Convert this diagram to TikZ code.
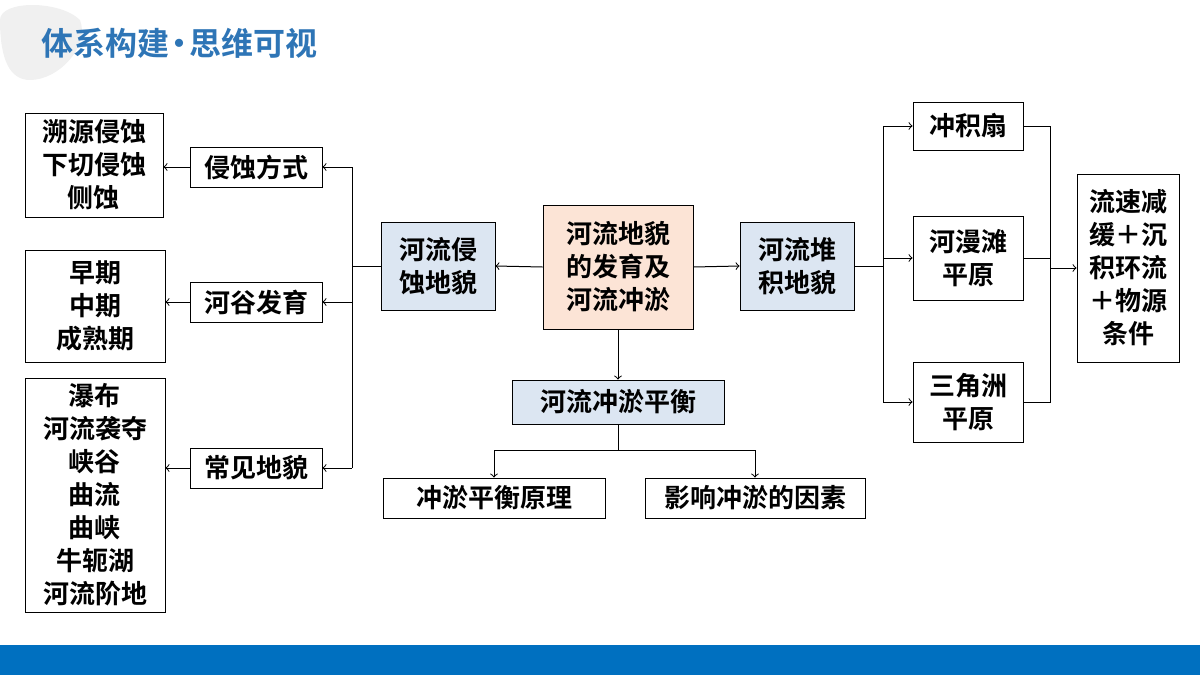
\documentclass[tikz,border=0pt]{standalone}
\usepackage{fontspec}
\setmainfont{Noto Sans CJK SC}[BoldFont={Noto Sans CJK SC Bold}]
\usepackage{tikz}
\usetikzlibrary{arrows}
\definecolor{titleblue}{RGB}{46,117,182}
\definecolor{barblue}{RGB}{0,112,192}
\definecolor{boxblue}{RGB}{220,230,242}
\definecolor{boxpeach}{RGB}{252,228,214}

\begin{document}
\begin{tikzpicture}[x=0.5pt,y=-0.5pt,>=to,
  box/.style={draw=black,fill=white,align=center,font=\bfseries\fontsize{13}{16.5}\selectfont,inner sep=0pt},
  line/.style={draw=black,line width=0.5pt}]
\useasboundingbox (0,0) rectangle (1200,675);
%%%BACKGROUND
\fill[gray!12] (0,20) .. controls (0,0) and (60,0) .. (80,20) .. controls (90,45) and (60,80) .. (30,80) .. controls (10,80) and (0,60) .. (0,20);
\fill[barblue] (0,645) rectangle (1200,675);
\node[anchor=west,font=\bfseries\fontsize{16}{19}\selectfont,text=titleblue] (title) at (34,43) {体系构建{\kern-3pt}•{\kern-3pt}思维可视};
%%%LEFT
\node[box,minimum width=69pt,minimum height=52pt] (sy) at (94,165) {溯源侵蚀\\下切侵蚀\\侧蚀};
\node[box,minimum width=70pt,minimum height=56pt] (zq) at (95,306) {早期\\中期\\成熟期};
\node[box,minimum width=70pt,minimum height=117pt] (pb) at (95,495) {瀑布\\河流袭夺\\峡谷\\曲流\\曲峡\\牛轭湖\\河流阶地};
\node[box,minimum width=66pt,minimum height=20pt] (qs) at (256,167) {侵蚀方式};
\node[box,minimum width=66pt,minimum height=20pt] (hg) at (256,302) {河谷发育};
\node[box,minimum width=66pt,minimum height=20pt] (cj) at (256,468) {常见地貌};
\node[box,fill=boxblue,minimum width=57pt,minimum height=44pt] (qsdm) at (438,266) {河流侵\\蚀地貌};
%%%CENTER
\node[box,fill=boxpeach,minimum width=75pt,minimum height=62pt] (main) at (618,267) {河流地貌\\的发育及\\河流冲淤};
\node[box,fill=boxblue,minimum width=57pt,minimum height=44pt] (dj) at (797,266) {河流堆\\积地貌};
\node[box,fill=boxblue,minimum width=106pt,minimum height=22pt] (ph) at (618,402) {河流冲淤平衡};
\node[box,minimum width=111pt,minimum height=20pt] (yl) at (494,498) {冲淤平衡原理};
\node[box,minimum width=110pt,minimum height=20pt] (ys) at (755,498) {影响冲淤的因素};
%%%RIGHT
\node[box,minimum width=55pt,minimum height=24pt] (cjs) at (968,126) {冲积扇};
\node[box,minimum width=55pt,minimum height=42pt] (hmt) at (968,258) {河漫滩\\平原};
\node[box,minimum width=55pt,minimum height=40pt] (sjz) at (968,402) {三角洲\\平原};
\node[box,minimum width=51pt,minimum height=94pt] (ls) at (1128,268) {流速减\\缓＋沉\\积环流\\＋物源\\条件};
%%%CONNECTORS
\coordinate (lt) at (352,266);
\draw[line] (qsdm.west) -- (lt);
\draw[line] (lt |- qs) -- (lt |- cj);
\foreach \b in {qs,hg,cj} \draw[line,->] (lt |- \b) -- (\b.east);
\draw[line,->] (qs.west) -- (sy.east |- qs);
\draw[line,->] (hg.west) -- (zq.east |- hg);
\draw[line,->] (cj.west) -- (pb.east |- cj);
\draw[line,->] (main.west) -- (qsdm.east);
\draw[line,->] (main.east) -- (dj.west);
\draw[line,->] (main.south) -- (ph.north);
\coordinate (pt) at (618,450);
\draw[line] (ph.south) -- (pt);
\draw[line,->] (pt) -| (yl.north);
\draw[line,->] (pt) -| (ys.north);
\coordinate (rt) at (883,266);
\draw[line] (dj.east) -- (rt);
\draw[line] (rt |- cjs) -- (rt |- sjz);
\foreach \b in {cjs,hmt,sjz} \draw[line,->] (rt |- \b) -- (\b.west);
\coordinate (rr) at (1050,268);
\draw[line] (cjs.east) -- (rr |- cjs) -- (rr |- sjz) -- (sjz.east);
\draw[line] (hmt.east) -- (rr |- hmt);
\draw[line,->] (rr) -- (ls.west);
\end{tikzpicture}
\end{document}
